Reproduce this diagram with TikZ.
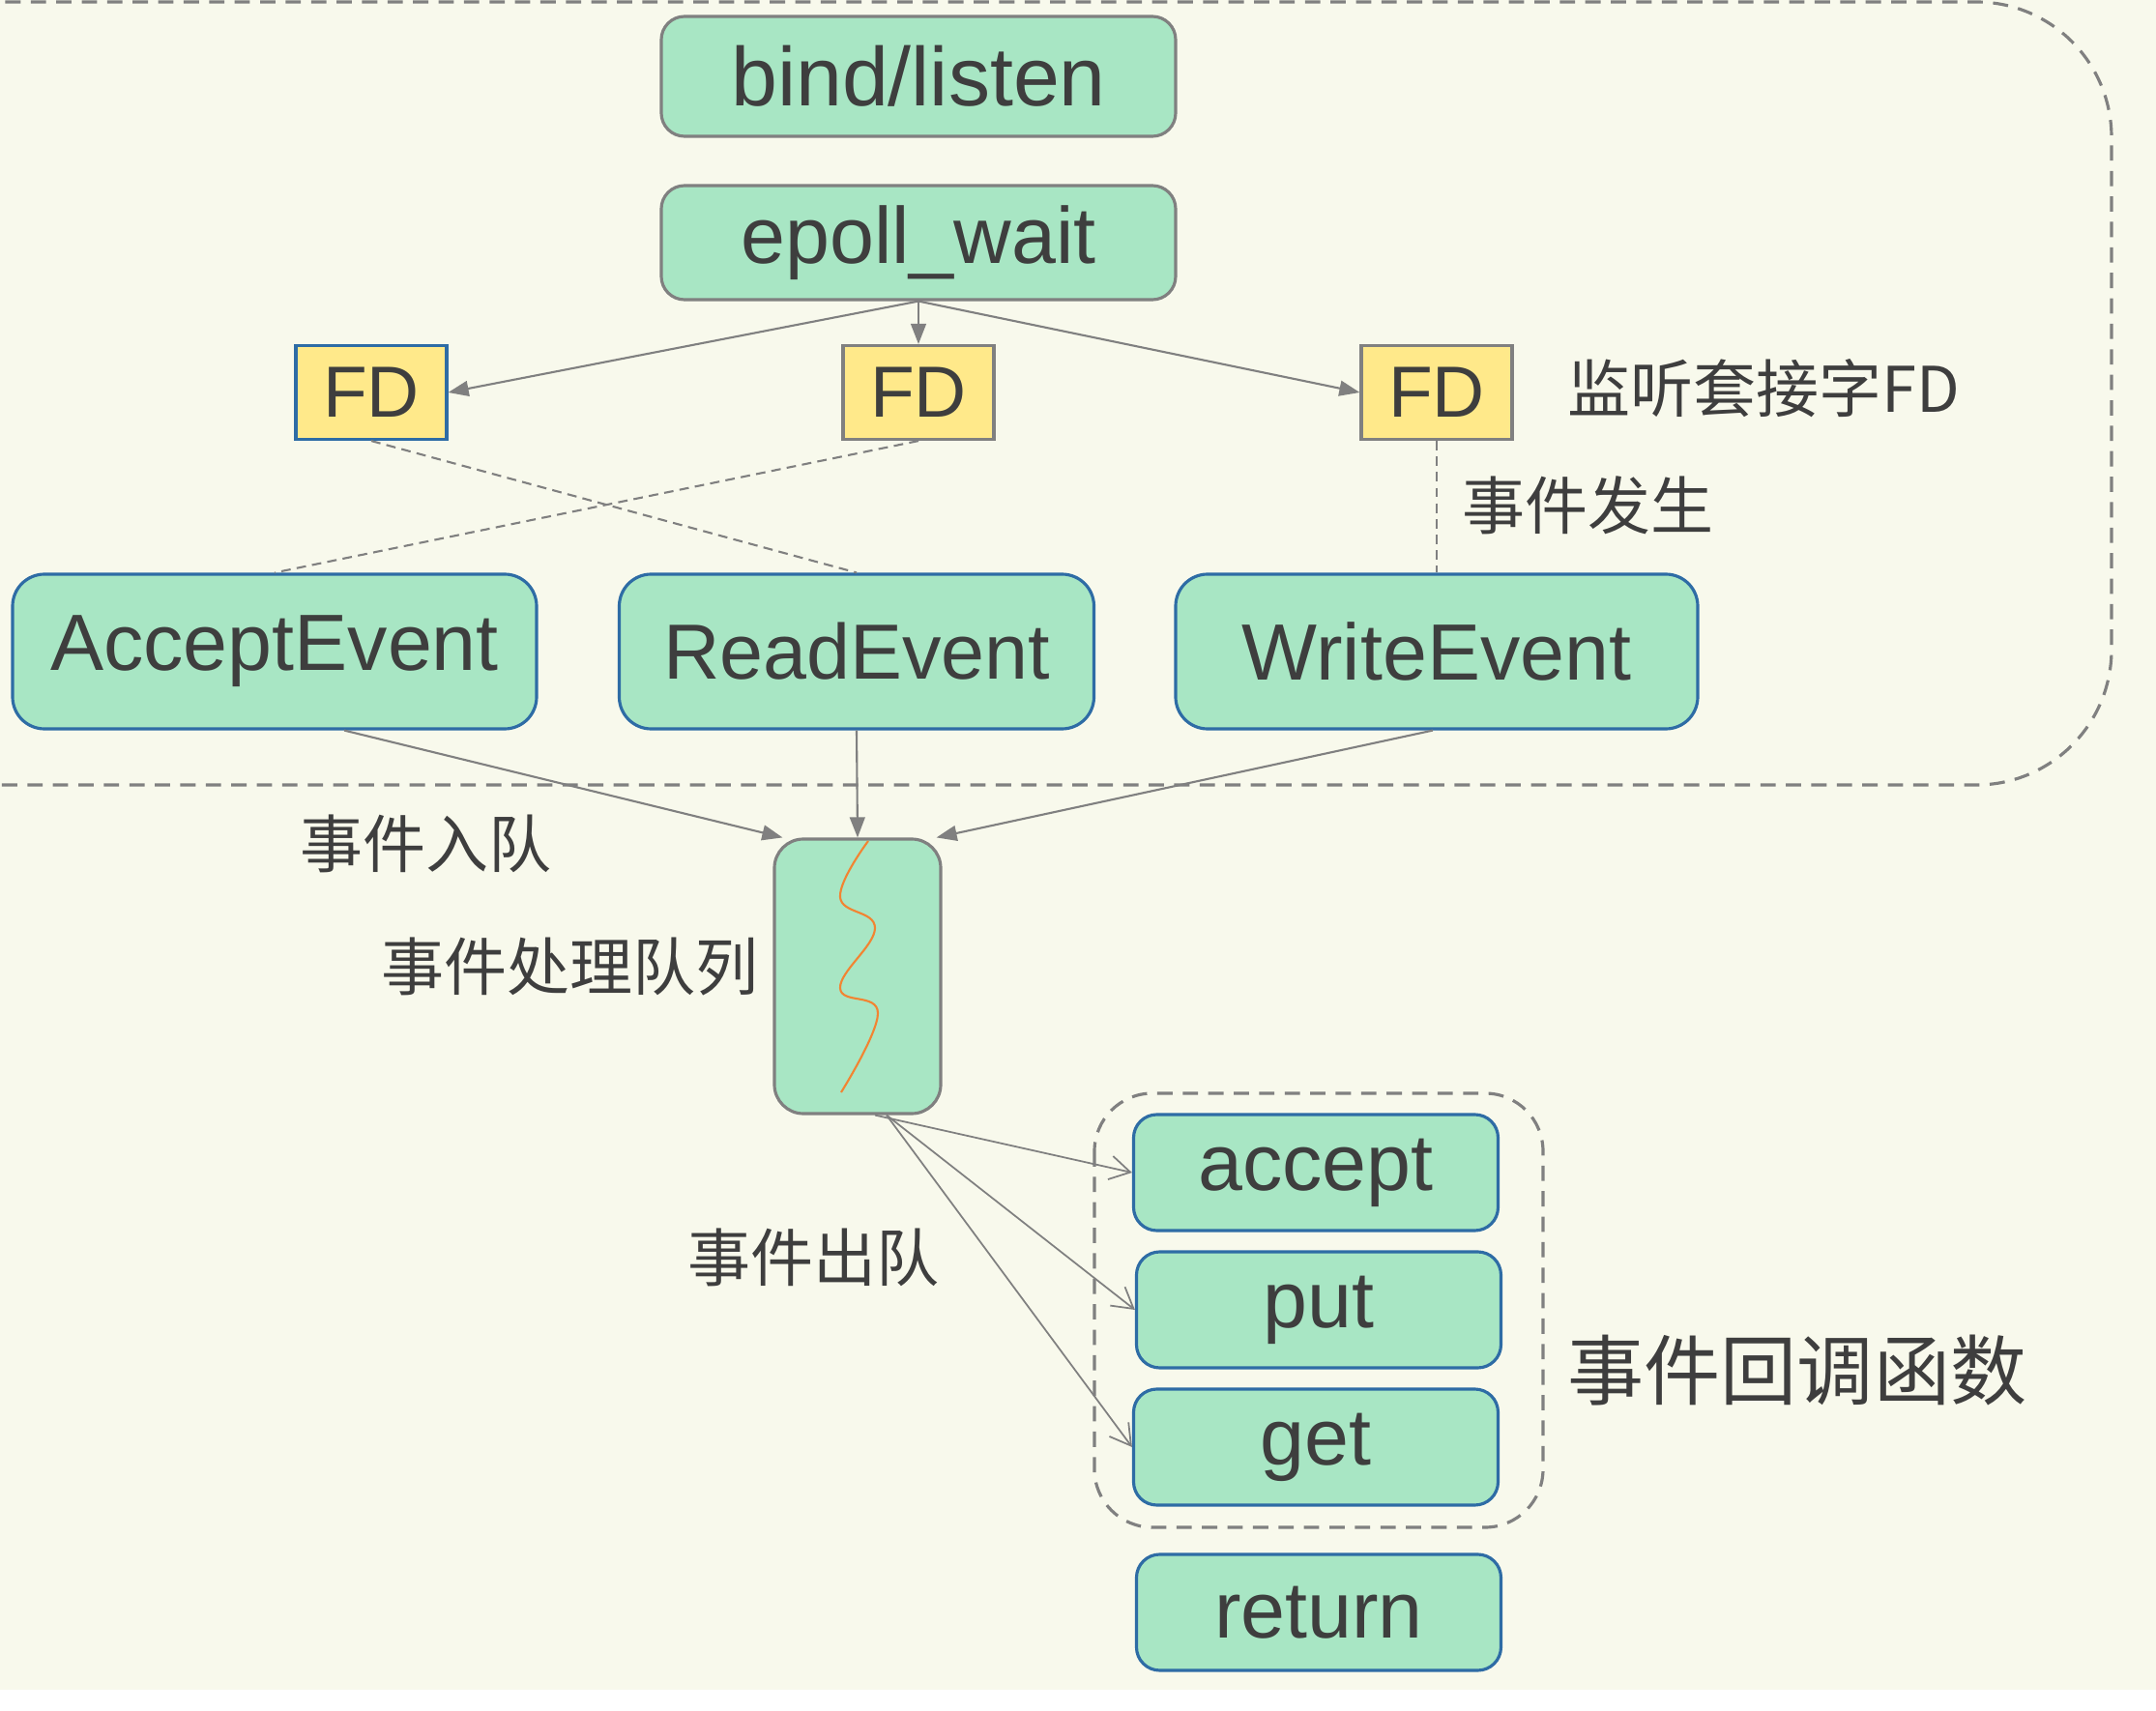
\documentclass[tikz,border=0pt]{standalone}
\usepackage{fontspec}
\setmainfont{Liberation Sans}
\newfontfamily\cjk{Noto Sans CJK SC}
\usetikzlibrary{arrows.meta}
\definecolor{bgcol}{RGB}{248,249,236}
\definecolor{boxgreen}{RGB}{168,230,196}
\definecolor{edgegray}{RGB}{128,128,128}
\definecolor{edgeblue}{RGB}{46,108,165}
\definecolor{fdyellow}{RGB}{255,233,138}
\definecolor{inkgray}{RGB}{62,62,62}
\definecolor{wavecol}{RGB}{242,132,50}

\begin{document}
\begin{tikzpicture}[
    box/.style={draw, line width=0.9pt, fill=boxgreen, rounded corners=0.24cm, inner sep=0pt, text=inkgray, font=\fontsize{23.5}{28}\selectfont},
    graybox/.style={box, draw=edgegray},
    bluebox/.style={box, draw=edgeblue},
    evbox/.style={bluebox, rounded corners=0.33cm, minimum height=1.60cm},
    cbbox/.style={bluebox, minimum width=3.77cm, minimum height=1.20cm},
    fdbox/.style={draw, line width=0.9pt, fill=fdyellow, minimum width=1.56cm, minimum height=0.97cm, inner sep=0pt, text=inkgray, font=\fontsize{21.3}{25}\selectfont},
    lbl/.style={anchor=west, inner sep=0pt, text=inkgray, font=\cjk\fontsize{18.5}{22}\selectfont},
    arr/.style={draw=edgegray, line width=0.6pt, -{Triangle[length=6pt,width=4.5pt]}},
    cb/.style={draw=edgegray, line width=0.5pt, -{Straight Barb[length=6pt,width=7pt]}},
    link/.style={draw=edgegray, line width=0.6pt, dash pattern=on 2.8pt off 1.8pt},
    frame/.style={draw=edgegray, line width=0.9pt, dash pattern=on 4.5pt off 3pt},
  ]
\fill[white] (0,0) rectangle (22.3,-17.7);
\fill[bgcol] (0,0) rectangle (22.3,-17.48);
\useasboundingbox (0,0) rectangle (22.3,-17.7);
\draw[frame, rounded corners=1.4cm] (-1,-0.02) -- (21.84,-0.02) -- (21.84,-8.12) -- (-1,-8.12);

\node[graybox, minimum width=5.32cm, minimum height=1.24cm, font=\fontsize{24.5}{29}\selectfont] (bind) at (9.50,-0.79) {bind/listen};
\node[graybox, minimum width=5.32cm, minimum height=1.18cm] (wait) at (9.50,-2.51) {epoll\_wait};

\node[fdbox, draw=edgeblue] (fda) at (3.84,-4.06) {FD};
\node[fdbox, draw=edgegray] (fdr) at (9.50,-4.06) {FD};
\node[fdbox, draw=edgegray] (fdw) at (14.86,-4.06) {FD};
\node[lbl] (listen) at (16.21,-4.02) {监听套接字FD};
\node[lbl] (happen) at (15.12,-5.23) {事件发生};

\node[evbox, minimum width=5.42cm] (acc) at (2.84,-6.74) {AcceptEvent};
\node[evbox, minimum width=4.91cm, font=\fontsize{23}{28}\selectfont] (rd) at (8.86,-6.74) {ReadEvent};
\node[evbox, minimum width=5.40cm] (wr) at (14.86,-6.74) {WriteEvent};

\node[graybox, rounded corners=0.3cm, minimum width=1.72cm, minimum height=2.84cm] (queue) at (8.87,-10.10) {};
\node[lbl] (enq) at (3.10,-8.73) {事件入队};
\node[lbl] (qname) at (3.94,-10.00) {事件处理队列};
\node[lbl] (deq) at (7.11,-13.01) {事件出队};

\draw[frame, rounded corners=0.6cm] (11.32,-11.31) rectangle (15.96,-15.80);
\node[cbbox] (cbacc) at (13.61,-12.13) {accept};
\node[cbbox] (cbput) at (13.64,-13.55) {put};
\node[cbbox] (cbget) at (13.61,-14.97) {get};
\node[cbbox] (ret) at (13.64,-16.68) {return};
\node[lbl, font=\cjk\fontsize{22.5}{27}\selectfont] (cbname) at (16.21,-14.18) {事件回调函数};

\draw[arr] (wait.south) -- (fda.east);
\draw[arr] (wait.south) -- (fdr.north);
\draw[arr] (wait.south) -- (fdw.west);
\draw[link] (fda.south) -- (rd.north);
\draw[link] (fdr.south) -- (acc.north);
\draw[link] (fdw.south) -- (wr.north);

\draw[arr] ([xshift=0.72cm]acc.south) -- ([xshift=0.1cm]queue.north west);
\draw[arr] (rd.south) -- (queue.north);
\draw[arr] ([xshift=-0.04cm]wr.south) -- ([xshift=-0.06cm]queue.north east);

\draw[wavecol, line width=0.6pt] plot[smooth, tension=0.7] coordinates {(8.98,-8.70) (8.69,-9.28) (9.05,-9.60) (8.69,-10.22) (9.08,-10.48) (8.70,-11.30)};

\draw[cb] ([xshift=0.18cm]queue.south) -- (cbacc.west);
\draw[cb] ([xshift=0.3cm]queue.south) -- (cbput.west);
\draw[cb] ([xshift=0.3cm]queue.south) -- (cbget.west);
\end{tikzpicture}
\end{document}
